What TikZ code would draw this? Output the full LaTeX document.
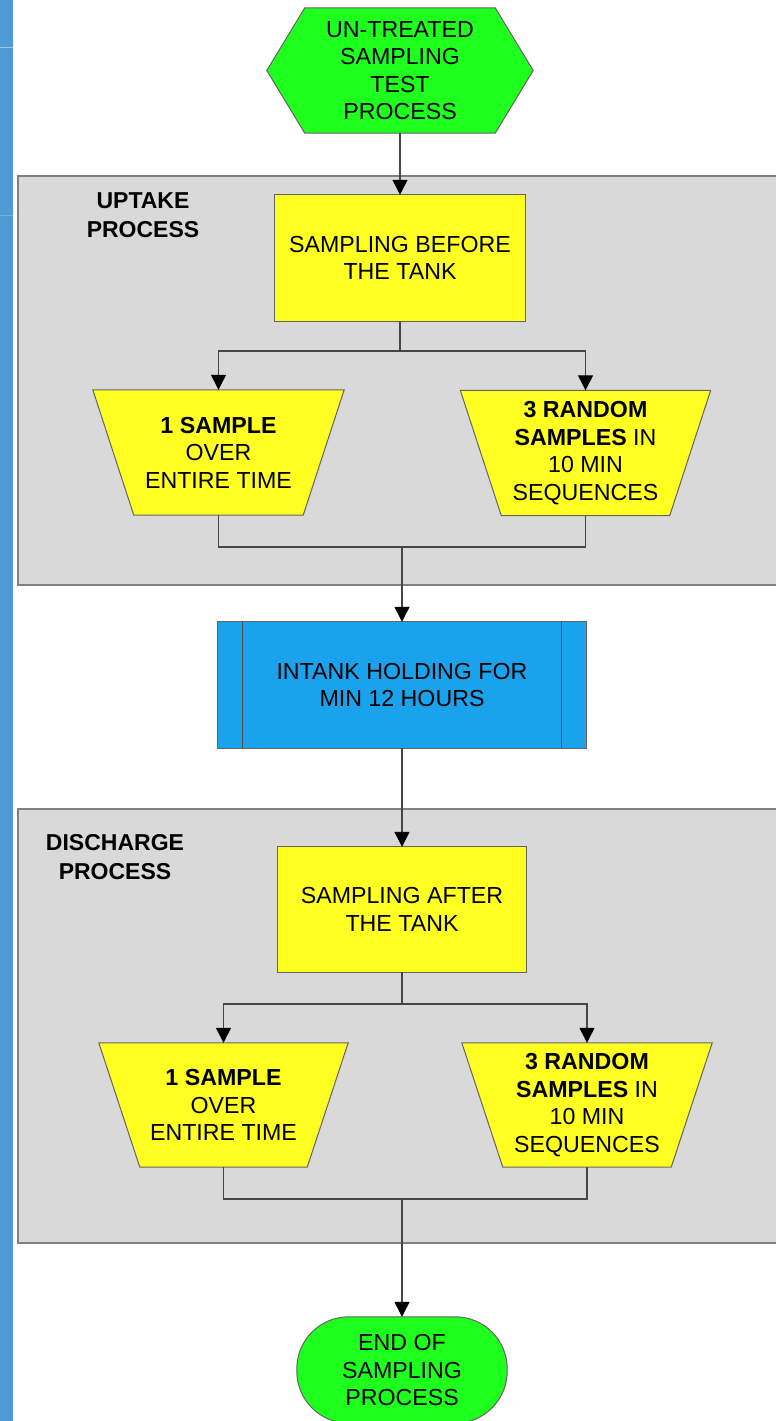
\documentclass[tikz,border=0pt]{standalone}
\usepackage{fontspec}
\setmainfont{Liberation Sans}
\usetikzlibrary{arrows.meta,backgrounds}
\definecolor{stripblue}{RGB}{79,155,213}
\definecolor{stripline}{RGB}{160,200,235}
\definecolor{panelgray}{RGB}{217,217,217}
\definecolor{panelline}{RGB}{128,128,128}
\definecolor{termgreen}{RGB}{30,255,30}
\definecolor{boxyellow}{RGB}{255,255,34}
\definecolor{procblue}{RGB}{26,163,236}
\definecolor{shapeline}{RGB}{100,100,100}
\definecolor{connline}{RGB}{70,70,70}
\tikzset{
  txt/.style={align=center, inner sep=0pt, text=black,
    font=\fontsize{23.2}{27.5}\selectfont},
  lbl/.style={txt, font=\fontsize{23}{28.5}\selectfont\bfseries},
  shapedraw/.style={draw=shapeline, line width=1pt},
  panel/.style={fill=panelgray, draw=panelline, line width=1.5pt},
  conn/.style={draw=connline, line width=1.2pt},
  arr/.style={conn, -{Triangle[length=15pt,width=15pt,fill=black,color=black]}},
}
\begin{document}
\begin{tikzpicture}[x=1pt,y=-1pt]
\useasboundingbox (0,0) rectangle (776,1421);

% nodes (text)
\node[txt, minimum width=266, minimum height=125] (start) at (400,70.5) {UN-TREATED\\SAMPLING\\TEST\\PROCESS};
\node[lbl] (uptake) at (143,215) {UPTAKE\\PROCESS};
\node[txt, minimum width=250, minimum height=126] (b1) at (400,258) {SAMPLING BEFORE\\THE TANK};
\node[txt, minimum width=251, minimum height=125] (t1) at (218.5,452.5) {\textbf{1 SAMPLE}\\OVER\\ENTIRE TIME};
\node[txt, minimum width=250, minimum height=125] (t2) at (585.5,453) {\textbf{3 RANDOM}\\\textbf{SAMPLES} IN\\10 MIN\\SEQUENCES};
\node[txt, minimum width=368, minimum height=126] (proc) at (402,685) {INTANK HOLDING FOR\\MIN 12 HOURS};
\node[lbl] (discharge) at (115,857) {DISCHARGE\\PROCESS};
\node[txt, minimum width=249, minimum height=125] (b2) at (402,909.5) {SAMPLING AFTER\\THE TANK};
\node[txt, minimum width=249, minimum height=124] (t3) at (223.5,1105) {\textbf{1 SAMPLE}\\OVER\\ENTIRE TIME};
\node[txt, minimum width=250, minimum height=124] (t4) at (587,1105) {\textbf{3 RANDOM}\\\textbf{SAMPLES} IN\\10 MIN\\SEQUENCES};
\node[txt, minimum width=210, minimum height=106] (stop) at (402,1370) {END OF\\SAMPLING\\PROCESS};

% background shapes
\begin{scope}[on background layer]
  \fill[stripblue] (0,0) rectangle (13,1421);
  \draw[stripline, line width=1pt] (0,48) -- (13,48);
  \draw[stripblue!80!white, line width=1pt] (0,215) -- (13,215);
  \filldraw[panel] (18,176) rectangle (800,585);
  \filldraw[panel] (18,809) rectangle (800,1243);
  \filldraw[shapedraw, fill=termgreen] (start.west) -- ([xshift=38]start.north west) -- ([xshift=-38]start.north east) -- (start.east) -- ([xshift=-38]start.south east) -- ([xshift=38]start.south west) -- cycle;
  \filldraw[shapedraw, fill=boxyellow] (b1.north west) rectangle (b1.south east);
  \filldraw[shapedraw, fill=boxyellow] (t1.north west) -- (t1.north east) -- ([xshift=-41]t1.south east) -- ([xshift=41]t1.south west) -- cycle;
  \filldraw[shapedraw, fill=boxyellow] (t2.north west) -- (t2.north east) -- ([xshift=-41]t2.south east) -- ([xshift=41]t2.south west) -- cycle;
  \filldraw[shapedraw, fill=procblue] (proc.north west) rectangle (proc.south east);
  \draw[shapedraw, draw=black!70] ([xshift=25]proc.north west) -- ([xshift=25]proc.south west);
  \draw[shapedraw, draw=black!70] ([xshift=-25]proc.north east) -- ([xshift=-25]proc.south east);
  \filldraw[shapedraw, fill=boxyellow] (b2.north west) rectangle (b2.south east);
  \filldraw[shapedraw, fill=boxyellow] (t3.north west) -- (t3.north east) -- ([xshift=-41]t3.south east) -- ([xshift=41]t3.south west) -- cycle;
  \filldraw[shapedraw, fill=boxyellow] (t4.north west) -- (t4.north east) -- ([xshift=-41]t4.south east) -- ([xshift=41]t4.south west) -- cycle;
  \filldraw[shapedraw, fill=termgreen, rounded corners=52] (stop.north west) rectangle (stop.south east);
\end{scope}

% connectors
\coordinate (s1) at (400,351);
\coordinate (m1) at (402,547);
\coordinate (s2) at (402,1004);
\coordinate (m2) at (402,1199);
\draw[arr] (start.south) -- (b1.north);
\draw[conn] (b1.south) -- (s1);
\draw[arr] (s1) -| (t1.north);
\draw[arr] (s1) -| (t2.north);
\draw[conn] (t1.south) |- (m1);
\draw[conn] (t2.south) |- (m1);
\draw[arr] (m1) -- (proc.north);
\draw[arr] (proc.south) -- (b2.north);
\draw[conn] (b2.south) -- (s2);
\draw[arr] (s2) -| (t3.north);
\draw[arr] (s2) -| (t4.north);
\draw[conn] (t3.south) |- (m2);
\draw[conn] (t4.south) |- (m2);
\draw[arr] (m2) -- (stop.north);
\end{tikzpicture}
\end{document}
